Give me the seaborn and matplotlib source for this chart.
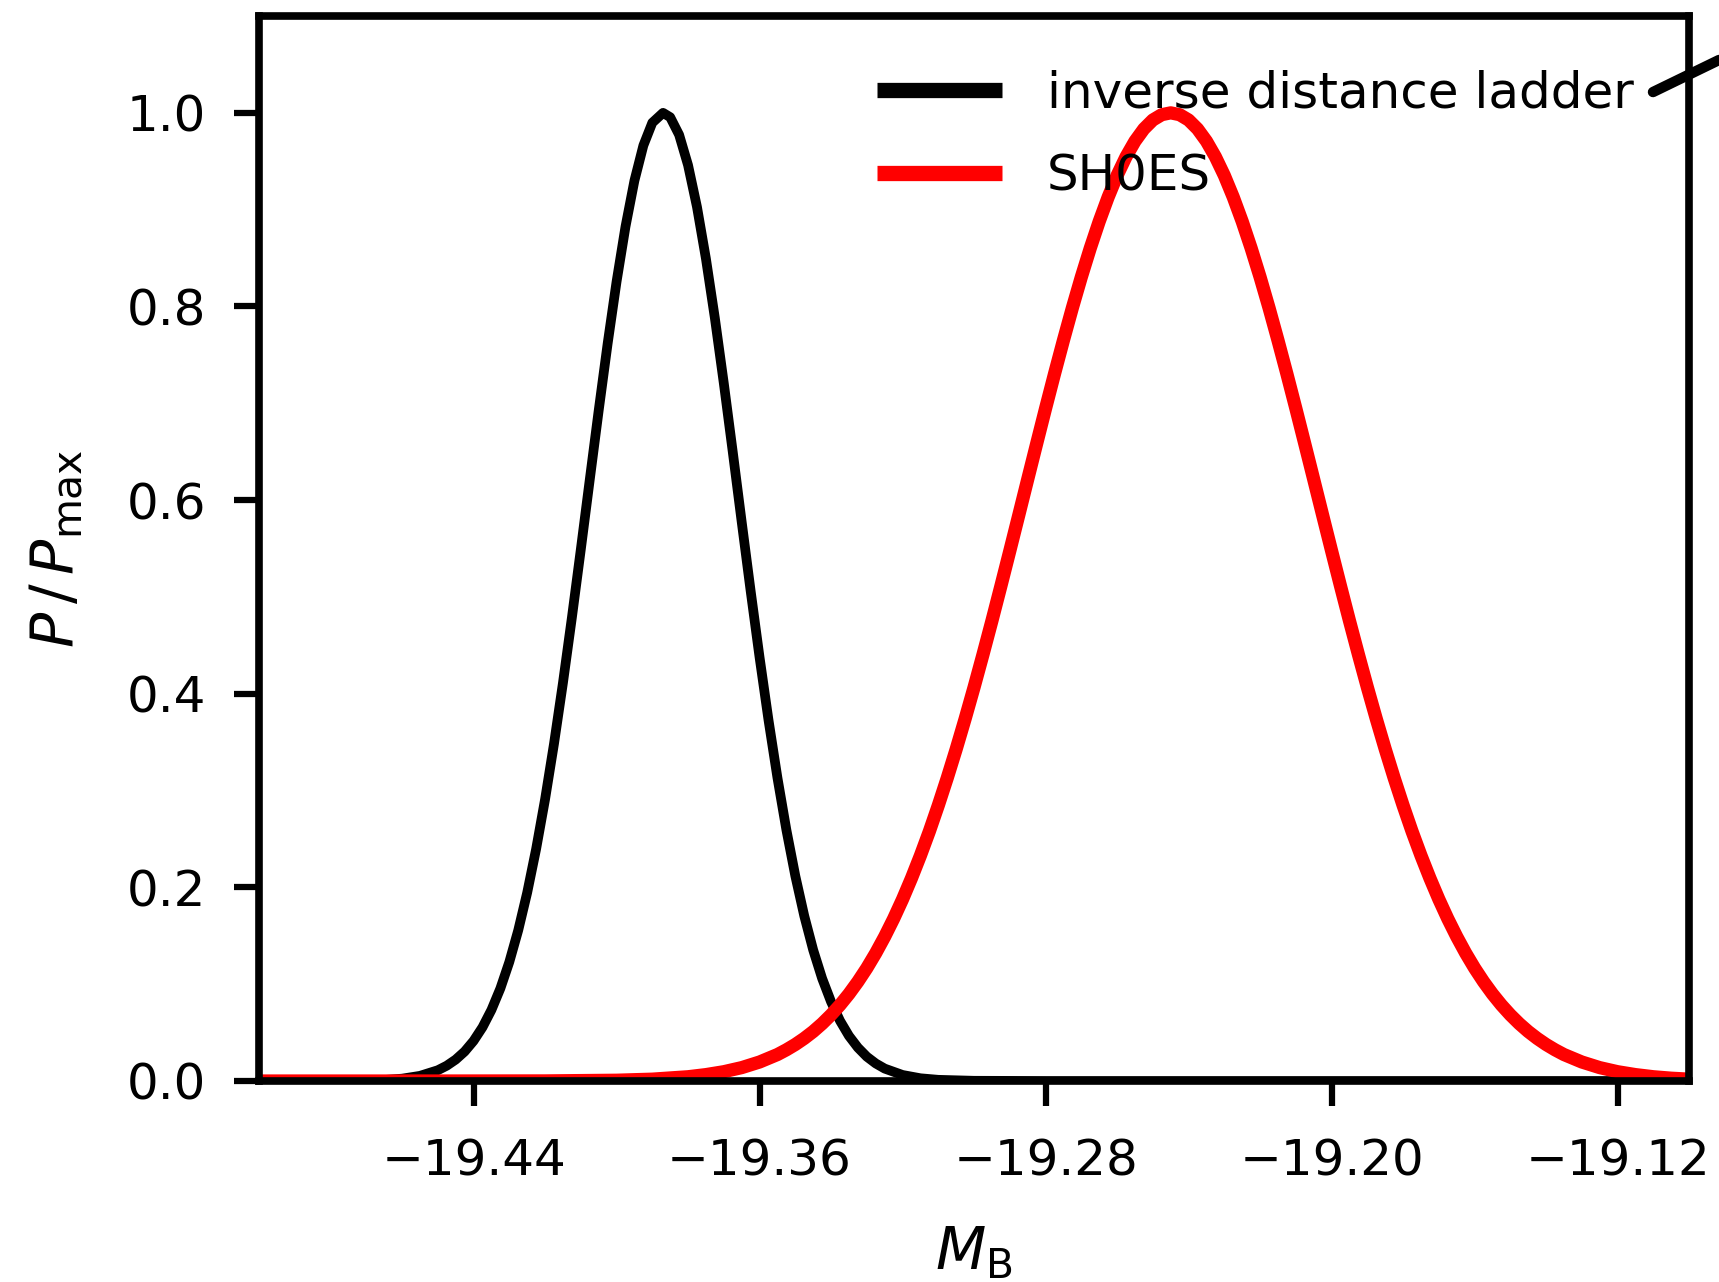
import matplotlib
matplotlib.use('Agg')
import pandas as pd
import seaborn as sns
import matplotlib.pyplot as plt
from matplotlib.lines import Line2D

# P/Pmax (inverse distance ladder)
idl_mb = [-19.500, -19.480, -19.470, -19.465, -19.460, -19.455, -19.450, -19.4475,
          -19.445, -19.4425, -19.440, -19.4375, -19.435, -19.4325, -19.430, -19.4275,
          -19.425, -19.4225, -19.420, -19.4175, -19.415, -19.4125, -19.410, -19.4075,
          -19.405, -19.4025, -19.400, -19.3975, -19.395, -19.3925, -19.390, -19.387,
          -19.385, -19.3825, -19.380, -19.3775, -19.375, -19.3725, -19.370, -19.3675,
          -19.365, -19.3625, -19.360, -19.3575, -19.355, -19.3525, -19.350, -19.3475,
          -19.345, -19.3425, -19.340, -19.3375, -19.335, -19.3325, -19.330, -19.3275,
          -19.325, -19.320, -19.315, -19.310, -19.300, -19.280, -19.100]
idl_p = [0.0, 0.0001, 0.0004, 0.0010, 0.0024, 0.0053, 0.0111, 0.0158,
         0.0221, 0.0304, 0.0414, 0.0555, 0.0734, 0.0956, 0.1229, 0.1557,
         0.1945, 0.2396, 0.2909, 0.3483, 0.4111, 0.4785, 0.5490, 0.6210,
         0.6925, 0.7615, 0.8256, 0.8825, 0.9300, 0.9663, 0.9898, 1.0,
         0.9955, 0.9773, 0.9459, 0.9027, 0.8493, 0.7879, 0.7206, 0.6498,
         0.5775, 0.5063, 0.4376, 0.3728, 0.3132, 0.2594, 0.2118, 0.1705,
         0.1353, 0.1059, 0.0818, 0.0622, 0.0466, 0.0345, 0.0251, 0.0181,
         0.0128, 0.0062, 0.0028, 0.0012, 0.0002, 0.0, 0.0]

# P/Pmax (SH0ES)
shoes_mb = [-19.500, -19.450, -19.420, -19.400, -19.390, -19.380, -19.375, -19.370,
            -19.365, -19.360, -19.355, -19.3525, -19.350, -19.3475, -19.345, -19.3425,
            -19.340, -19.3375, -19.335, -19.3325, -19.330, -19.3275, -19.325, -19.3225,
            -19.320, -19.3175, -19.315, -19.3125, -19.310, -19.3075, -19.305, -19.3025,
            -19.300, -19.2975, -19.295, -19.2925, -19.290, -19.2875, -19.285, -19.2825,
            -19.280, -19.2775, -19.275, -19.2725, -19.270, -19.2675, -19.265, -19.2625,
            -19.260, -19.2575, -19.255, -19.2525, -19.250, -19.2475, -19.245, -19.2425,
            -19.240, -19.2375, -19.235, -19.2325, -19.230, -19.2275, -19.225, -19.2225,
            -19.220, -19.2175, -19.215, -19.2125, -19.210, -19.2075, -19.205, -19.2025,
            -19.200, -19.1975, -19.195, -19.1925, -19.190, -19.1875, -19.185, -19.1825,
            -19.180, -19.1775, -19.175, -19.1725, -19.170, -19.1675, -19.165, -19.1625,
            -19.160, -19.1575, -19.155, -19.1525, -19.150, -19.1475, -19.145, -19.1425,
            -19.140, -19.1375, -19.135, -19.130, -19.125, -19.120, -19.115, -19.110,
            -19.105, -19.100]
shoes_p = [0.0, 0.0, 0.0001, 0.0008, 0.0019, 0.0044, 0.0066, 0.0096,
           0.0138, 0.0196, 0.0273, 0.0322, 0.0377, 0.0440, 0.0511, 0.0592,
           0.0683, 0.0785, 0.0899, 0.1026, 0.1166, 0.1321, 0.1491, 0.1676,
           0.1877, 0.2095, 0.2329, 0.2579, 0.2847, 0.3130, 0.3428, 0.3741,
           0.4067, 0.4406, 0.4754, 0.5112, 0.5476, 0.5844, 0.6214, 0.6582,
           0.6947, 0.7304, 0.7651, 0.7986, 0.8304, 0.8602, 0.8878, 0.9129,
           0.9353, 0.9546, 0.9707, 0.9834, 0.9926, 0.9981, 1.0, 0.9981,
           0.9926, 0.9834, 0.9707, 0.9546, 0.9353, 0.9129, 0.8878, 0.8602,
           0.8304, 0.7986, 0.7651, 0.7304, 0.6947, 0.6582, 0.6214, 0.5844,
           0.5476, 0.5112, 0.4754, 0.4406, 0.4067, 0.3741, 0.3428, 0.3130,
           0.2847, 0.2579, 0.2329, 0.2095, 0.1877, 0.1676, 0.1491, 0.1321,
           0.1166, 0.1026, 0.0899, 0.0785, 0.0683, 0.0592, 0.0511, 0.0440,
           0.0377, 0.0322, 0.0273, 0.0196, 0.0138, 0.0096, 0.0066, 0.0044,
           0.0029, 0.0019]

x_ticks = [-19.44, -19.36, -19.28, -19.20, -19.12]
x_tick_labels = ['\u221219.44', '\u221219.36', '\u221219.28', '\u221219.20', '\u221219.12']
y_ticks = [0.0, 0.2, 0.4, 0.6, 0.8, 1.0]
y_tick_labels = ['0.0', '0.2', '0.4', '0.6', '0.8', '1.0']

df_idl = pd.DataFrame({'MB': idl_mb, 'P': idl_p})
df_shoes = pd.DataFrame({'MB': shoes_mb, 'P': shoes_p})

sns.set_theme(style='ticks')
plt.rcParams['font.family'] = ['DejaVu Sans']
plt.rcParams['mathtext.fontset'] = 'dejavusans'
plt.rcParams['text.color'] = 'black'
plt.rcParams['axes.labelcolor'] = 'black'

fig = plt.figure(figsize=(17.19, 12.82), dpi=100)
ax = fig.add_axes([0.1507, 0.1568, 0.8319, 0.8307])

sns.lineplot(data=df_idl, x='MB', y='P', color='black', linewidth=7.0, sort=False,
             ax=ax, label='inverse distance ladder', solid_joinstyle='round')
sns.lineplot(data=df_shoes, x='MB', y='P', color='red', linewidth=9.5, sort=False,
             ax=ax, label='SH0ES', solid_joinstyle='round')

ax.set_xlim(-19.50, -19.10)
ax.set_ylim(0, 1.1)
ax.set_xticks(x_ticks)
ax.set_xticklabels(x_tick_labels)
ax.set_yticks(y_ticks)
ax.set_yticklabels(y_tick_labels)
ax.tick_params(axis='both', direction='out', length=18, width=4.5, color='black',
               labelsize=36, labelcolor='black')
ax.tick_params(axis='x', pad=23)
ax.tick_params(axis='y', pad=20)

for side in ['top', 'bottom', 'left', 'right']:
    ax.spines[side].set_visible(True)
    ax.spines[side].set_color('black')
    ax.spines[side].set_linewidth(5.5)

ax.set_xlabel(r'$M_\mathrm{B}$', fontsize=42)
ax.set_ylabel(r'$P\,/\,P_\mathrm{max}$', fontsize=42)
ax.xaxis.set_label_coords(0.5, -0.135)
ax.yaxis.set_label_coords(-0.122, 0.5)

leg = ax.legend(loc='upper left', bbox_to_anchor=(0.432, 0.950), frameon=False,
                fontsize=36, handlelength=2.5, handletextpad=0.9,
                labelspacing=0.7, borderpad=0, borderaxespad=0)
for line in leg.get_lines():
    line.set_linewidth(11)
    line.set_solid_capstyle('butt')

# stray black stroke poking in at the top right corner of the image
fig.add_artist(Line2D([0.9616, 1.0], [0.9282, 0.9532], color='black',
                      linewidth=7.5, transform=fig.transFigure, clip_on=False))

fig.savefig('out.png', dpi=100)
